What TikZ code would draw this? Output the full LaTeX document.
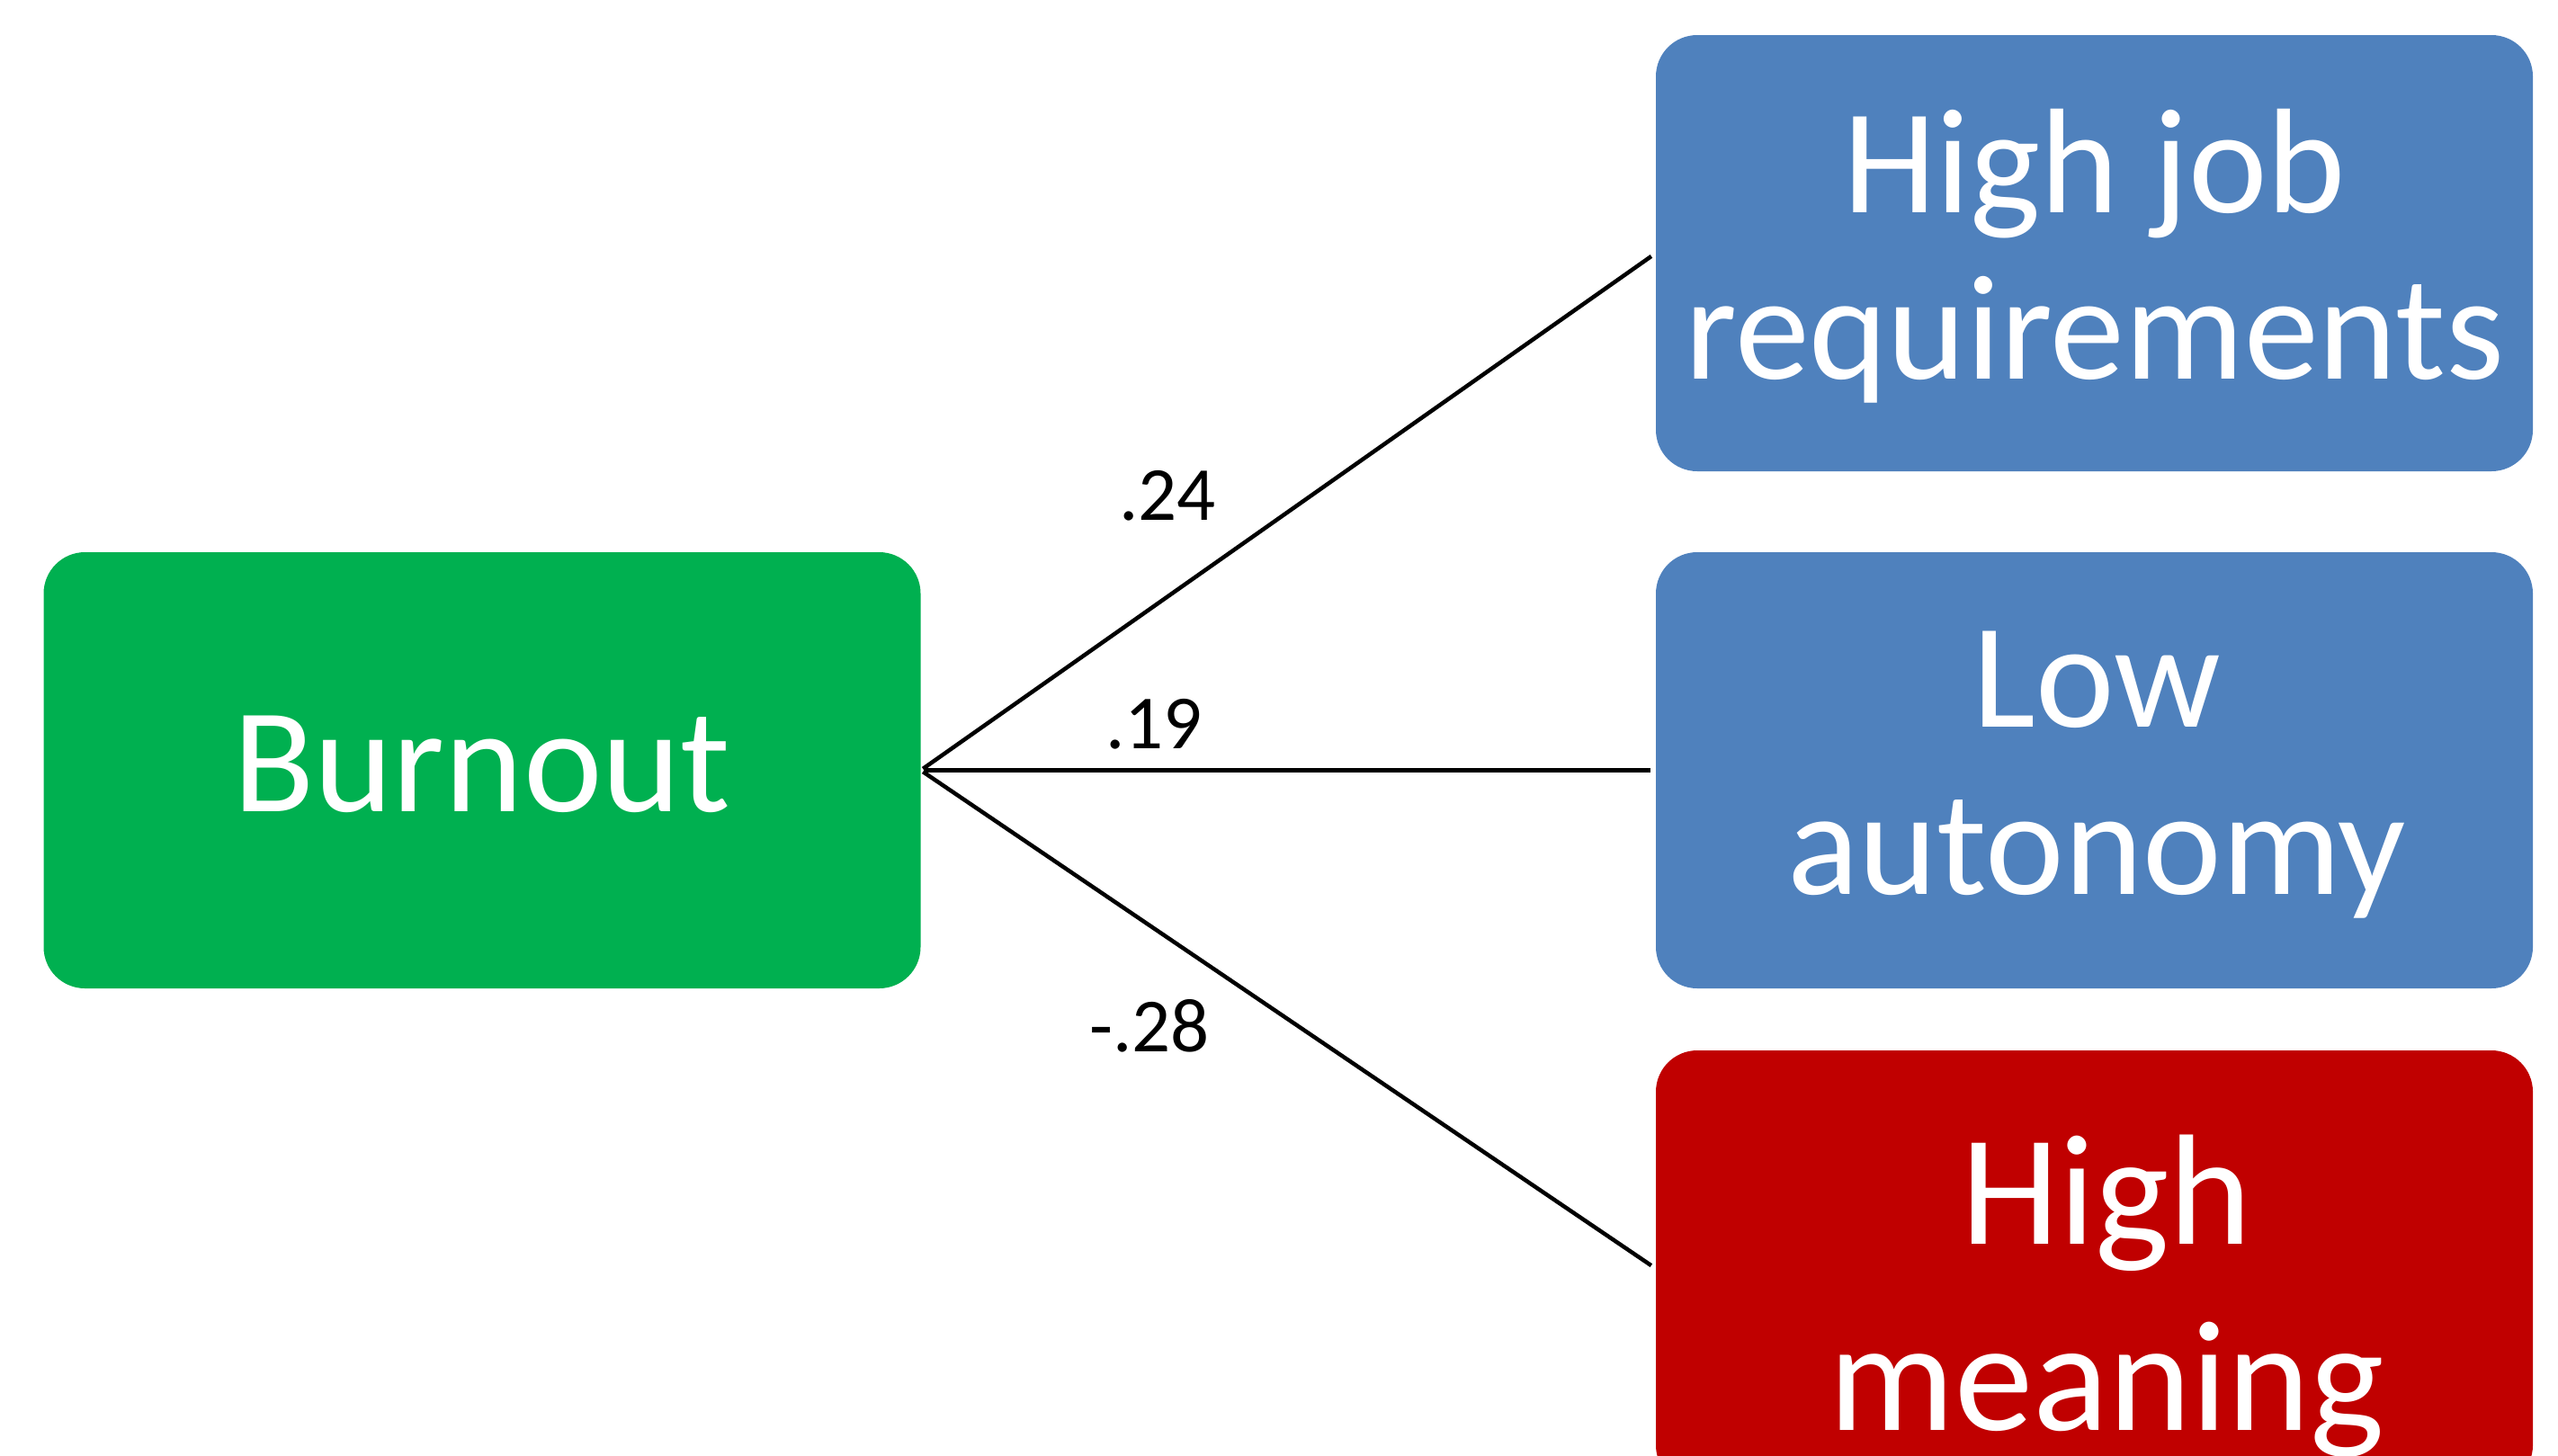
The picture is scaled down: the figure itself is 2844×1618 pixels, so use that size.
\documentclass[tikz,border=0pt]{standalone}
\usepackage{fontspec}
\setmainfont{Carlito}
\definecolor{burnoutgreen}{HTML}{00B050}
\definecolor{factorblue}{HTML}{4F81BD}
\definecolor{factorred}{HTML}{C00000}
\begin{document}
\begin{tikzpicture}[x=1pt,y=-1pt,
  box/.style={rectangle, rounded corners=46pt, minimum width=975pt, minimum height=485pt, inner sep=0pt, draw=none},
  boxtext/.style={anchor=base, inner sep=0pt, text=white, font=\fontsize{166}{185}\selectfont},
  bigtext/.style={anchor=base, inner sep=0pt, text=white, font=\fontsize{175}{207}\selectfont},
  coef/.style={anchor=base, inner sep=0pt, text=black, font=\fontsize{85}{100}\selectfont},
  conn/.style={draw=black, line width=4.5pt, shorten <=3pt, shorten >=6pt}]
\useasboundingbox (0,0) rectangle (2844,1618);
\clip (0,0) rectangle (2844,1618);
\fill[white] (0,0) rectangle (2844,1618);

% boxes
\node[box, fill=burnoutgreen] (burnout) at (536,856.5) {};
\node[box, fill=factorblue] (job) at (2328.5,281.5) {};
\node[box, fill=factorblue] (autonomy) at (2328.5,856.5) {};
\node[box, fill=factorred] (meaning) at (2328.5,1410.5) {};

% box texts
\node[boxtext] (burnouttxt) at (536,902) {Burnout};
\node[boxtext] (jobtxta) at (2328.5,236) {High job};
\node[boxtext] (jobtxtb) at (2328.5,421) {requirements};
\node[boxtext] (autotxta) at (2331,808) {Low};
\node[boxtext] (autotxtb) at (2331,994) {autonomy};
\node[bigtext] (meantxta) at (2342,1383) {High};
\node[bigtext] (meantxtb) at (2342,1590) {meaning};

% connectors
\draw[conn] (burnout.east) -- (job.west);
\draw[conn] (burnout.east) -- (autonomy.west);
\draw[conn] (burnout.east) -- (meaning.west);

% coefficients
\node[coef] (c1) at (1298,578) {.24};
\node[coef] (c2) at (1283,832) {.19};
\node[coef] (c3) at (1278,1169) {-.28};
\end{tikzpicture}
\end{document}
